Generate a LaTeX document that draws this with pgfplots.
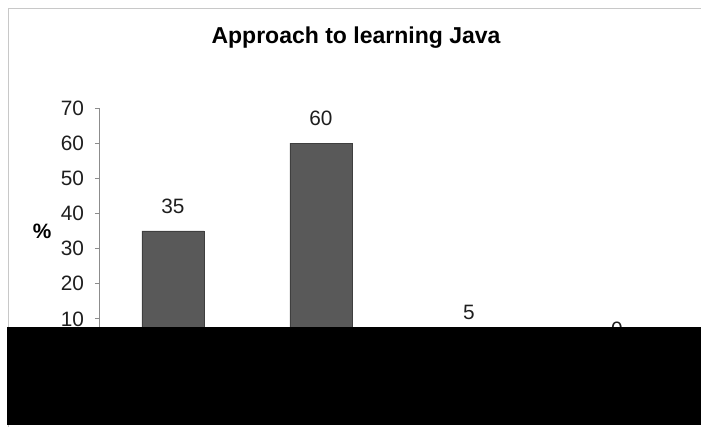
\documentclass[border=0pt]{standalone}
\usepackage{pgfplots}
\pgfplotsset{compat=1.18}
\usepackage{fontspec}
\setmainfont{Liberation Sans}
\definecolor{barfill}{HTML}{595959}
\definecolor{baredge}{HTML}{3F3F3F}
\definecolor{framegray}{HTML}{C8C8C8}
\definecolor{axisgray}{HTML}{8C8C8C}
\definecolor{txt}{HTML}{1E1E1E}
\begin{document}
\begin{tikzpicture}[x=0.5pt,y=0.5pt]
\useasboundingbox (0,0) rectangle (701,427);
\draw[framegray, line width=0.75pt] (8.5,0) -- (8.5,418.5) -- (701,418.5);
\node[font=\fontsize{11.5pt}{13pt}\selectfont\bfseries, text=black] at (356,389) {Approach to learning Java};
\begin{axis}[
  at={(49.5pt,36.5pt)}, anchor=south west,
  scale only axis, width=296pt, height=123pt,
  xmin=-0.5, xmax=3.5, ymin=0, ymax=70,
  ytick={0,10,...,70}, xtick={0,1,2,3}, xticklabels={},
  axis x line=bottom, axis y line=left,
  axis line style={-, axisgray, line width=0.5pt},
  tick align=outside, major tick length=2pt,
  tick style={axisgray, line width=0.5pt},
  /pgf/number format/assume math mode=true,
  yticklabel style={font=\fontsize{10.4pt}{12pt}\selectfont, text=txt, xshift=-2pt},
  ylabel={\%},
  ylabel style={rotate=-90, font=\fontsize{10.4pt}{12pt}\selectfont\bfseries, text=black},
  every axis y label/.append style={at={(axis description cs:-0.096,0.5)}, anchor=center},
  ybar, bar width=31pt,
  nodes near coords,
  every node near coord/.append style={font=\fontsize{10.4pt}{12pt}\selectfont, text=txt, yshift=5pt},
  clip=false,
]
\addplot[fill=barfill, draw=baredge, line width=0.4pt] coordinates {(0,35) (1,60) (2,5) (3,0)};
\end{axis}
\fill[black] (7,2) rectangle (701,100);
\end{tikzpicture}
\end{document}
